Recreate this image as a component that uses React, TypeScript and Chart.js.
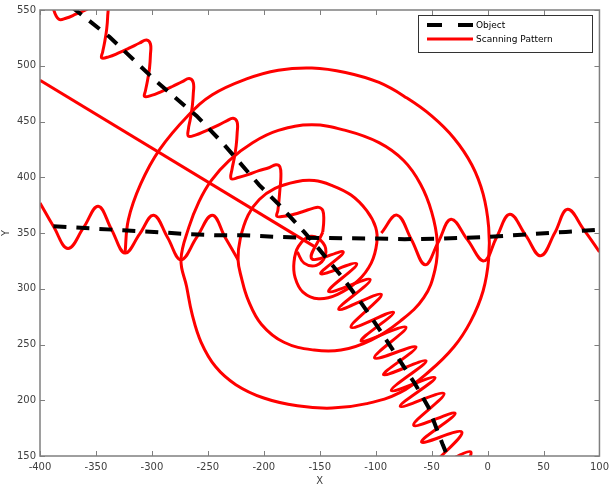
import React, { useEffect, useRef } from 'react';
import { Chart, registerables } from 'chart.js';

Chart.register(...registerables);

// ---- axis ticks ----
const xTicks = [-400, -350, -300, -250, -200, -150, -100, -50, 0, 50, 100];
const yTicks = [150, 200, 250, 300, 350, 400, 450, 500, 550];

// ---- Object (black dashed) ----
const objDiagX = [-372, -338, -296, -260, -237, -204, -186, -164, -151, -128, -112, -97, -80, -65, -53, -40, -35];
const objDiagY = [553, 526, 486, 455, 431, 393, 375, 351, 336, 308, 286, 264, 238, 215, 194, 160, 148];
const objHorzX = [-388, -326, -298, -269, -242, -218, -187, -150, -100, -74, -40, 0, 39, 70, 100];
const objHorzY = [356, 352.5, 351, 349, 348, 348, 346.5, 345.5, 345, 344.5, 345, 346.5, 349, 351, 353];

// ---- Scanning pattern (red) ----
const jumpX = [-400, -155];
const jumpY = [487, 338];

const hWaveLeftX = [-400, -388, -375, -361, -348, -336, -324, -311, -298.5, -286, -274, -260, -246, -234.5, -223];
const hWaveLeftY = [377, 356, 336, 355, 374, 353, 332, 349, 366, 346, 326, 346, 366, 346, 326];

const hWaveRightX = [-95, -81, -68, -55.7, -44, -32.6, -18, -3.2, 8, 19.9, 34, 47.5, 60, 71.5, 86, 100];
const hWaveRightY = [350, 366, 344, 321.5, 342, 362.3, 344, 325, 346, 366.8, 348, 329.5, 350, 371.2, 353, 333];

const spiralX = [
  -324, -321, -310, -293, -268, -246, -216, -187, -157, -127, -97, -72, -50, -30, -14, -4, 1, 1, -4, -15, -30, -52, -78, -108, -139, -170, -200, -225, -243, -256, -264, -269, -274,
  -267, -258, -247, -231, -210, -187, -157, -127, -97, -75, -60, -50, -45, -47, -57, -78, -104, -131, -155, -182, -202, -214, -220, -223,
  -221, -214, -204, -190, -171, -155, -140, -122, -108, -100, -99, -104, -116, -134, -151, -165, -172, -173, -169, -158, -147, -145, -153, -164, -170,
];
const spiralY = [
  332, 362, 394, 425, 455, 474, 488, 496, 498, 494, 485, 471, 455, 435, 411, 385, 355, 327, 298, 271, 248, 226, 207, 197, 193, 195, 202, 214, 230, 252, 277, 302, 326,
  355, 378, 397, 415, 431, 442, 447, 442, 431, 415, 394, 369, 342, 317, 292, 271, 254, 245, 245, 252, 268, 290, 310, 326,
  345, 366, 380, 390, 396, 397, 393, 384, 370, 355, 341, 323, 307, 295, 291, 297, 310, 324, 338, 347, 341, 330, 321, 323, 333,
];

// upper diagonal wave (along the object's first leg)
const diagUpperX = [
  -391.1, -389.3, -387.6,
  -383.1, -376.9, -368.0, -358.2, -349.3, -343.1, -339.5, -339.5, -340.4, -342.2, -344.0,
  -344.9, -338.6, -329.7, -319.9, -311.0, -304.8, -301.3, -301.3, -302.1, -303.9, -305.7,
  -306.6, -300.4, -291.5, -281.7, -272.8, -266.6, -263.0, -263.0, -263.9, -265.7, -267.4,
  -267.4, -261.2, -252.3, -242.5, -233.6, -227.4, -223.8, -223.8, -224.7, -226.5, -228.3,
  -229.2, -222.9, -214.1, -204.3, -195.4, -189.2, -185.6, -184.7, -185.6, -186.5, -187.4,
  -188.3, -182.0, -173.1, -164.2, -156.2, -150.9, -147.3, -146.4, -147.3,
];
const diagUpperY = [
  577.3, 562.2, 549.7,
  541.7, 542.6, 546.2, 550.6, 555.1, 557.7, 554.2, 544.4, 532.9, 521.3, 512.4,
  507.1, 508.0, 511.5, 516.0, 520.4, 523.1, 519.5, 509.8, 498.2, 486.7, 477.8,
  472.5, 473.4, 476.9, 481.4, 485.8, 488.5, 484.9, 475.1, 463.6, 452.0, 443.2,
  436.9, 437.8, 441.4, 445.8, 450.3, 452.9, 449.4, 439.6, 428.1, 416.5, 407.6,
  398.8, 399.7, 402.3, 405.9, 408.5, 411.2, 409.4, 400.5, 389.0, 378.3, 370.3,
  365.0, 365.0, 366.8, 369.5, 372.1, 373.0, 370.3, 361.5, 350.8,
];

// dense zig-zag along the object's second leg
const diagLowerX = [-147.3, -157, -129, -149, -117, -142, -105, -133, -95, -122, -84, -113, -73, -101, -64, -93, -55, -86, -47, -78, -39, -66, -29, -59, -23, -48, -15, -35];
const diagLowerY = [350.8, 326.8, 333, 313.5, 322.4, 297.5, 308.2, 281.5, 294.9, 265.5, 278.9, 253.1, 265.5, 238, 247.8, 222.9, 235.3, 208.7, 220.3, 194.5, 206, 177.6, 188.3, 162.5, 171.4, 141, 153.6, 124];

const pts = (xs: number[], ys: number[]) => xs.map((x, i) => ({ x, y: ys[i] }));

const RED = '#ff0000';

const framePlugin = {
  id: 'matlabFrame',
  afterDraw(chart: any) {
    const { ctx, chartArea } = chart;
    const { left, right, top, bottom } = chartArea;
    const xs = chart.scales.x;
    const ys = chart.scales.y;
    ctx.save();
    ctx.strokeStyle = '#7f7f7f';
    ctx.lineWidth = 1.5;
    ctx.setLineDash([]);
    ctx.strokeRect(left, top, right - left, bottom - top);
    ctx.lineWidth = 1;
    ctx.beginPath();
    xTicks.forEach((v) => {
      const px = Math.round(xs.getPixelForValue(v)) + 0.5;
      ctx.moveTo(px, bottom);
      ctx.lineTo(px, bottom - 5);
      ctx.moveTo(px, top);
      ctx.lineTo(px, top + 5);
    });
    yTicks.forEach((v) => {
      const py = Math.round(ys.getPixelForValue(v)) + 0.5;
      ctx.moveTo(left, py);
      ctx.lineTo(left + 5, py);
      ctx.moveTo(right, py);
      ctx.lineTo(right - 5, py);
    });
    ctx.stroke();

    // legend
    ctx.fillStyle = '#ffffff';
    ctx.fillRect(418.5, 15.5, 174, 37);
    ctx.strokeStyle = '#333333';
    ctx.lineWidth = 1;
    ctx.strokeRect(418.5, 15.5, 174, 37);
    ctx.strokeStyle = '#000000';
    ctx.lineWidth = 4;
    ctx.setLineDash([15, 16]);
    ctx.beginPath();
    ctx.moveTo(427, 25);
    ctx.lineTo(474, 25);
    ctx.stroke();
    ctx.setLineDash([]);
    ctx.strokeStyle = RED;
    ctx.lineWidth = 3;
    ctx.beginPath();
    ctx.moveTo(427, 39);
    ctx.lineTo(473, 39);
    ctx.stroke();
    ctx.fillStyle = '#000000';
    ctx.font = '9px "DejaVu Sans"';
    ctx.textBaseline = 'middle';
    ctx.textAlign = 'left';
    ctx.fillText('Object', 476, 25.5);
    ctx.fillText('Scanning Pattern', 476, 39.5);
    ctx.restore();
  },
};

export default function App() {
  const ref = useRef<HTMLCanvasElement | null>(null);
  useEffect(() => {
    if (!ref.current) return;
    Chart.defaults.font.family = '"DejaVu Sans", sans-serif';
    const redSet = (label: string, data: any[], tension = 0.4) => ({
      label,
      data,
      borderColor: RED,
      backgroundColor: RED,
      borderWidth: 3,
      pointRadius: 0,
      showLine: true,
      tension,
      fill: false,
    });
    const objSet = (label: string, data: any[]) => ({
      label,
      data,
      borderColor: '#000000',
      borderWidth: 4,
      borderDash: [13, 10],
      pointRadius: 0,
      showLine: true,
      tension: 0,
    });
    const chart = new Chart(ref.current, {
      type: 'scatter',
      data: {
        datasets: [
          objSet('Object', pts(objDiagX, objDiagY)),
          objSet('Object (horizontal)', pts(objHorzX, objHorzY)),
          redSet('Scanning Pattern', pts(jumpX, jumpY), 0),
          redSet('s2', pts(hWaveLeftX, hWaveLeftY)),
          redSet('s3', pts(hWaveRightX, hWaveRightY)),
          redSet('s4', pts(spiralX, spiralY)),
          redSet('s5', pts(diagUpperX, diagUpperY), 0.4),
          redSet('s6', pts(diagLowerX, diagLowerY)),
        ] as any,
      },
      options: {
        animation: false,
        responsive: false,
        devicePixelRatio: 1,
        layout: { padding: { top: 6, right: 12, left: 0, bottom: 0 } },
        elements: { line: { capBezierPoints: false } },
        plugins: { legend: { display: false }, tooltip: { enabled: false } },
        scales: {
          x: {
            type: 'linear',
            min: -400,
            max: 100,
            afterBuildTicks: (s: any) => {
              s.ticks = xTicks.map((v) => ({ value: v }));
            },
            afterFit: (s: any) => {
              s.height = 31;
            },
            grid: { display: false, drawTicks: false },
            border: { display: false },
            ticks: { color: '#404040', font: { size: 10 }, padding: 5, maxRotation: 0, autoSkip: false },
            title: { display: true, text: 'X', color: '#404040', font: { size: 10 }, padding: 0 },
          },
          y: {
            type: 'linear',
            min: 150,
            max: 550,
            afterBuildTicks: (s: any) => {
              s.ticks = yTicks.map((v) => ({ value: v }));
            },
            afterFit: (s: any) => {
              s.width = 40;
            },
            grid: { display: false, drawTicks: false },
            border: { display: false },
            ticks: { color: '#404040', font: { size: 10 }, padding: 4, autoSkip: false },
            title: { display: true, text: 'Y', color: '#404040', font: { size: 10 }, padding: 0 },
          },
        },
      },
      plugins: [framePlugin],
    });
    return () => chart.destroy();
  }, []);
  return (
    <div style={{ position: 'absolute', left: 0, top: 0, width: 614, height: 487, background: '#fff' }}>
      <canvas ref={ref} width={614} height={487} style={{ display: 'block' }} />
    </div>
  );
}
